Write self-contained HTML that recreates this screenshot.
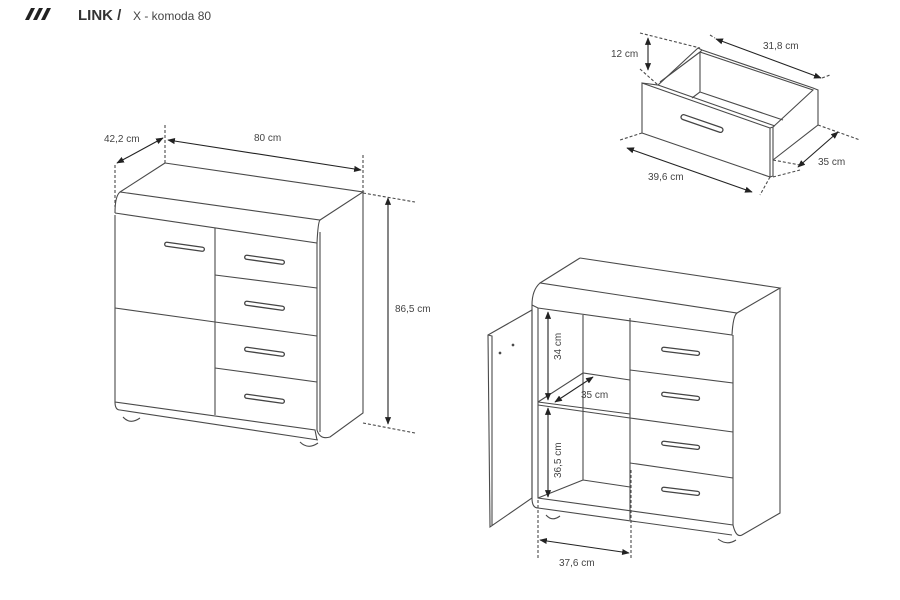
<!DOCTYPE html>
<html><head><meta charset="utf-8"><style>
html,body{margin:0;padding:0;background:#fff;width:900px;height:600px;overflow:hidden}
svg{display:block}
text{font-family:"Liberation Sans",sans-serif;fill:#444}
</style></head><body>
<svg width="900" height="600" viewBox="0 0 900 600" xmlns="http://www.w3.org/2000/svg">
<defs>
<marker id="a" viewBox="0 0 10 10" refX="9" refY="5" markerWidth="7" markerHeight="7" orient="auto-start-reverse"><path d="M0,1L10,5L0,9z" fill="#222"/></marker>
</defs>
<g fill="#222">
<polygon points="25,20 29,20 35,8 31,8"/>
<polygon points="33,20 37,20 43,8 39,8"/>
<polygon points="41,20 45,20 51,8 47,8"/>
</g>
<text x="78" y="20" font-size="15" font-weight="bold" style="fill:#333">LINK /</text>
<text x="133" y="20" font-size="12" style="fill:#444">X - komoda 80</text>

<g fill="none" stroke="#4a4a4a" stroke-width="1.1">
<!-- LEFT CABINET -->
<path d="M165,163 L363,192 L320,220 L120,192 Q115,196 115,213"/>
<path d="M120,192 L165,163"/>
<path d="M115,213 L317,243 Q318,222 320,220"/>
<path d="M115,215 L115,402 L315,430 L317,440"/>
<path d="M115,402 Q115,410 120,410 L318,440"/>
<path d="M317,243 L317,430 Q320,440 330,437 L363,413 L363,192"/>
<path d="M320,232 L320,432"/>
<path d="M215,228 L215,415"/>
<path d="M115,308 L215,322"/>
<path d="M215,275 L317,288 M215,322 L317,336 M215,368 L317,382"/>
<path d="M123,417 Q130,425 140,418"/>
<path d="M300,442 Q308,450 318,443"/>
<g stroke="#444" stroke-width="1.3">
<rect x="165" y="242" width="40" height="4" rx="2" transform="rotate(8 165 242)"/>
<rect x="245" y="255" width="40" height="4" rx="2" transform="rotate(8 245 255)"/>
<rect x="245" y="301" width="40" height="4" rx="2" transform="rotate(8 245 301)"/>
<rect x="245" y="347" width="40" height="4" rx="2" transform="rotate(8 245 347)"/>
<rect x="245" y="394" width="40" height="4" rx="2" transform="rotate(8 245 394)"/>
</g>
<path d="M115,165 L115,207 M165,125 L165,165 M363,155 L363,192 M363,193 L415,202 M363,423 L415,433" stroke-dasharray="3,2"/>
<g stroke="#222"><path d="M117,163 L163,138" marker-start="url(#a)" marker-end="url(#a)"/>
<path d="M168,140 L361,170" marker-start="url(#a)" marker-end="url(#a)"/>
<path d="M388,198 L388,424" marker-start="url(#a)" marker-end="url(#a)"/></g>

<!-- DRAWER -->
<path d="M642,83 L770,128 L770,177 L642,133 Z"/>
<path d="M770,128 L773,127 L773,176 L770,177"/>
<path d="M642,83 L658,85 L698,48 L702,50 L813,88 L818,90 L818,125 L773,160"/>
<path d="M658,85 L775,126 M660,82 L700,52 M702,50 L700,52 L813,90 L773,127"/>
<path d="M700,52 L700,92 L692,98 M700,92 L783,120"/>
<rect x="682" y="114" width="44" height="5" rx="2.5" transform="rotate(19 682 114)" stroke="#444" stroke-width="1.3"/>
<path d="M640,33 L700,48 M640,69 L658,85 M710,35 L715,38 M822,78 L830,75 M818,125 L860,140 M773,160 L800,165 M773,177 L800,170 M642,133 L620,140 M770,177 L760,195" stroke-dasharray="3,2"/>
<g stroke="#222"><path d="M648,38 L648,70" marker-start="url(#a)" marker-end="url(#a)"/>
<path d="M716,39 L821,78" marker-start="url(#a)" marker-end="url(#a)"/>
<path d="M798,167 L838,132" marker-start="url(#a)" marker-end="url(#a)"/>
<path d="M627,148 L752,192" marker-start="url(#a)" marker-end="url(#a)"/></g>

<!-- RIGHT CABINET -->
<path d="M580,258 L780,288 L737,313 L540,283 Q532,290 532,305"/>
<path d="M540,283 L580,258"/>
<path d="M532,305 L538,308 L732,335 Q733,316 737,313"/>
<path d="M780,288 L780,513 L742,535 M733,335 L733,525 Q736,538 742,535"/>
<path d="M538,308 L538,498 L733,525"/>
<path d="M532,305 L532,498 Q532,508 538,508 L732,535"/>
<path d="M630,318 L630,520"/>
<path d="M583,315 L583,480 L538,498 M583,480 L630,487"/>
<path d="M538,402 L583,373 L630,380 M538,405 L630,418 M538,402 L630,414"/>
<path d="M630,370 L733,383 M630,418 L733,432 M630,463 L733,478"/>
<path d="M488,335 L532,310 L532,498 L490,527 Z"/>
<path d="M488,335 L492,336 L492,525"/>
<path d="M546,515 Q552,522 560,516 M718,539 Q727,546 736,540"/>
<circle cx="500" cy="353" r="0.8" fill="#444"/><circle cx="513" cy="345" r="0.8" fill="#444"/>
<g stroke="#444" stroke-width="1.3">
<rect x="662" y="347" width="38" height="4" rx="2" transform="rotate(7 662 347)"/>
<rect x="662" y="392" width="38" height="4" rx="2" transform="rotate(7 662 392)"/>
<rect x="662" y="441" width="38" height="4" rx="2" transform="rotate(7 662 441)"/>
<rect x="662" y="487" width="38" height="4" rx="2" transform="rotate(7 662 487)"/>
</g>
<path d="M538,500 L538,560 M631,470 L631,560" stroke-dasharray="3,2"/>
<g stroke="#222"><path d="M548,312 L548,400" marker-start="url(#a)" marker-end="url(#a)"/>
<path d="M548,408 L548,497" marker-start="url(#a)" marker-end="url(#a)"/>
<path d="M555,402 L593,377" marker-start="url(#a)" marker-end="url(#a)"/>
<path d="M540,540 L629,553" marker-start="url(#a)" marker-end="url(#a)"/></g>
</g>

<g font-size="10">
<text x="104" y="142">42,2 cm</text>
<text x="254" y="141">80 cm</text>
<text x="395" y="312">86,5 cm</text>
<text x="611" y="57">12 cm</text>
<text x="763" y="49">31,8 cm</text>
<text x="818" y="165">35 cm</text>
<text x="648" y="180">39,6 cm</text>
<text x="581" y="398">35 cm</text>
<text x="559" y="566">37,6 cm</text>
<text transform="translate(561,360) rotate(-90)">34 cm</text>
<text transform="translate(561,478) rotate(-90)">36,5 cm</text>
</g>
</svg>
</body></html>
